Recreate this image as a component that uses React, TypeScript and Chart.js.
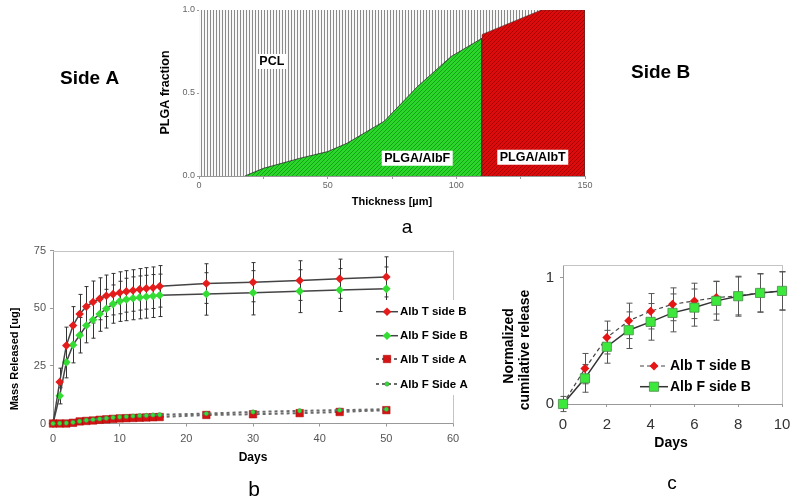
import { useEffect, useRef } from 'react';
import { Chart, registerables } from 'chart.js';

Chart.register(...registerables);

const FONT = '"Liberation Sans", Arial, Helvetica, sans-serif';

// ---------- Panel a: composition profile ----------
const thicknessTicks = [0, 25, 50, 75, 100, 125, 150];
const thicknessLabels = ['0', '', '50', '', '100', '', '150'];
const fractionTicks = [0, 0.5, 1];
const fractionLabels = ['0.0', '0.5', '1.0'];
const pclX = [0, 150];
const pclY = [1, 1];
const albFX = [17.8, 25, 39, 50, 57.5, 72, 85, 98, 110, 110];
const albFY = [0, 0.046, 0.106, 0.147, 0.197, 0.33, 0.54, 0.72, 0.83, 0];
const albTX = [110, 110, 133, 150, 150];
const albTY = [0, 0.853, 1, 1, 0];
const regionLabels = ['PCL', 'PLGA/AlbF', 'PLGA/AlbT'];
const regionLabelX = [28.3, 84.8, 129.7];
const regionLabelY = [0.69, 0.107, 0.113];

// ---------- Panel b: mass released ----------
const daysB = [0, 1, 2, 3, 4, 5, 6, 7, 8, 9, 10, 11, 12, 13, 14, 15, 16, 23, 30, 37, 43, 50];
const albTSideB = [0, 18, 33.8, 42.5, 47.5, 50.7, 52.7, 54.1, 55.4, 56.1, 56.7, 57.3, 57.7, 58.2, 58.6, 58.9, 59.5, 60.7, 61.3, 62, 62.8, 63.6];
const errTSideB = [0, 6, 8, 8.2, 8.5, 8.7, 9.1, 9.1, 9, 9, 9.1, 9, 9, 9, 9, 9, 9, 8.6, 8.5, 8.6, 8.5, 8.7];
const albFSideB = [0, 12, 26.6, 34.1, 38.3, 42.5, 45, 47.5, 49.8, 51.8, 53, 53.8, 54.3, 54.7, 55, 55.3, 55.6, 56.2, 56.7, 57.4, 57.9, 58.4];
const errFSideB = [0, 3.5, 6.8, 7.8, 7.7, 7.5, 8, 7.5, 8.4, 8.3, 8.7, 9.2, 9.3, 9.3, 9.3, 9.3, 9.2, 9.2, 9.6, 9.3, 9.3, 9.5];
const albTSideA = [0, 0, 0, 0.3, 0.9, 1.1, 1.3, 1.6, 1.8, 2.0, 2.2, 2.3, 2.4, 2.5, 2.6, 2.7, 2.8, 3.7, 4.0, 4.5, 5.0, 5.8];
const albFSideA = [0, 0.1, 0.2, 0.5, 1.0, 1.4, 1.7, 2.0, 2.3, 2.6, 2.8, 3.0, 3.2, 3.4, 3.5, 3.7, 3.8, 4.3, 5.0, 5.5, 5.8, 6.2];
const daysBTicks = [0, 10, 20, 30, 40, 50, 60];
const massTicks = [0, 25, 50, 75];

// ---------- Panel c: normalized release ----------
const daysC = [0, 1, 2, 3, 4, 5, 6, 7, 8, 9, 10];
const albTNorm = [0, 0.28, 0.526, 0.658, 0.734, 0.789, 0.816, 0.842, 0.855, 0.879, 0.895];
const errTNorm = [0.06, 0.12, 0.13, 0.14, 0.14, 0.13, 0.14, 0.13, 0.15, 0.15, 0.15];
const albFNorm = [0, 0.203, 0.453, 0.584, 0.65, 0.721, 0.763, 0.816, 0.853, 0.879, 0.895];
const errFNorm = [0.03, 0.11, 0.13, 0.145, 0.145, 0.15, 0.147, 0.153, 0.158, 0.153, 0.153];
const daysCTicks = [0, 2, 4, 6, 8, 10];
const normTicks = [0, 1];

const zip = (xs: number[], ys: number[]) => xs.map((x, i) => ({ x, y: ys[i] }));

function makeScale(o: {
  axis: 'x' | 'y'; min: number; max: number; ticks: number[]; labels?: string[];
  size: number; color: string; tickLen: number; pad: number; fit: number;
}) {
  return {
    type: 'linear',
    min: o.min,
    max: o.max,
    afterBuildTicks: (s: any) => { s.ticks = o.ticks.map((v) => ({ value: v })); },
    afterFit: (s: any) => { if (o.axis === 'x') s.height = o.fit; else s.width = o.fit; },
    ticks: {
      callback: (v: any, i: number) => (o.labels ? o.labels[i] : String(v)),
      font: { family: FONT, size: o.size },
      color: o.color,
      padding: o.pad,
      autoSkip: false,
      maxRotation: 0,
      minRotation: 0,
    },
    grid: { display: true, drawOnChartArea: false, drawTicks: true, tickLength: o.tickLen, color: '#999' },
    border: { display: true, color: '#999', width: 1 },
  };
}

type TextItem = {
  text: string; x: number; y: number; font: string; color?: string;
  align?: CanvasTextAlign; baseline?: CanvasTextBaseline; rotate?: number; box?: boolean;
};

const textPlugin = (id: string, getItems: (chart: any) => TextItem[]) => ({
  id,
  afterDraw(chart: any) {
    const ctx = chart.ctx as CanvasRenderingContext2D;
    for (const t of getItems(chart)) {
      ctx.save();
      ctx.translate(t.x, t.y);
      if (t.rotate) ctx.rotate(t.rotate);
      ctx.font = t.font;
      ctx.textAlign = t.align ?? 'center';
      ctx.textBaseline = t.baseline ?? 'alphabetic';
      if (t.box) {
        const w = ctx.measureText(t.text).width;
        ctx.fillStyle = '#fff';
        ctx.fillRect(-w / 2 - 2.5, -7.5, w + 5, 15);
      }
      ctx.fillStyle = t.color ?? '#000';
      ctx.fillText(t.text, 0, 0);
      ctx.restore();
    }
  },
});

const errorBarPlugin = (color: string, cap: number) => ({
  id: 'errorBars',
  beforeDatasetsDraw(chart: any) {
    const ctx = chart.ctx as CanvasRenderingContext2D;
    const ys = chart.scales.y;
    chart.data.datasets.forEach((ds: any, i: number) => {
      if (!ds.errors) return;
      const meta = chart.getDatasetMeta(i);
      ctx.save();
      ctx.strokeStyle = color;
      ctx.lineWidth = 1;
      meta.data.forEach((pt: any, j: number) => {
        const e = ds.errors[j];
        if (!e) return;
        const v = ds.data[j].y;
        const t = ys.getPixelForValue(v + e);
        const b = ys.getPixelForValue(v - e);
        const x = Math.round(pt.x) + 0.5;
        ctx.beginPath();
        ctx.moveTo(x, t); ctx.lineTo(x, b);
        ctx.moveTo(x - cap, t); ctx.lineTo(x + cap, t);
        ctx.moveTo(x - cap, b); ctx.lineTo(x + cap, b);
        ctx.stroke();
      });
      ctx.restore();
    });
  },
});

const framePlugin = (color: string) => ({
  id: 'frame',
  beforeDatasetsDraw(chart: any) {
    const { ctx, chartArea: a } = chart;
    ctx.save();
    ctx.strokeStyle = color;
    ctx.lineWidth = 1;
    ctx.beginPath();
    ctx.moveTo(a.left, Math.round(a.top) + 0.5);
    ctx.lineTo(a.right, Math.round(a.top) + 0.5);
    ctx.moveTo(Math.round(a.right) + 0.5, a.top);
    ctx.lineTo(Math.round(a.right) + 0.5, a.bottom);
    ctx.stroke();
    ctx.restore();
  },
});

function drawMarker(ctx: CanvasRenderingContext2D, style: string, x: number, y: number, r: number, fill: string, stroke: string, bw: number) {
  ctx.beginPath();
  if (style === 'rectRot') {
    ctx.moveTo(x, y - r); ctx.lineTo(x + r, y); ctx.lineTo(x, y + r); ctx.lineTo(x - r, y); ctx.closePath();
  } else if (style === 'rect') {
    const s = r * Math.SQRT1_2;
    ctx.rect(x - s, y - s, 2 * s, 2 * s);
  } else {
    ctx.arc(x, y, r, 0, Math.PI * 2);
  }
  ctx.fillStyle = fill;
  ctx.fill();
  if (bw > 0) { ctx.lineWidth = bw; ctx.strokeStyle = stroke; ctx.stroke(); }
}

const legendPlugin = (o: {
  order: number[]; rows: number[]; x0: number; x1: number; textX: number; font: string;
  box?: [number, number, number, number];
}) => ({
  id: 'customLegend',
  afterDraw(chart: any) {
    const ctx = chart.ctx as CanvasRenderingContext2D;
    ctx.save();
    if (o.box) { ctx.fillStyle = '#fff'; ctx.fillRect(...o.box); }
    o.order.forEach((di, k) => {
      const ds = chart.data.datasets[di];
      const y = o.rows[k];
      ctx.save();
      ctx.strokeStyle = ds.borderColor;
      ctx.lineWidth = ds.borderWidth;
      ctx.setLineDash(ds.borderDash || []);
      ctx.beginPath(); ctx.moveTo(o.x0, y); ctx.lineTo(o.x1, y); ctx.stroke();
      ctx.setLineDash([]);
      drawMarker(ctx, ds.pointStyle, (o.x0 + o.x1) / 2, y, ds.pointRadius, ds.pointBackgroundColor, ds.pointBorderColor, ds.pointBorderWidth);
      ctx.restore();
      ctx.font = o.font;
      ctx.fillStyle = '#000';
      ctx.textAlign = 'left';
      ctx.textBaseline = 'middle';
      ctx.fillText(ds.label, o.textX, y + 0.5);
    });
    ctx.restore();
  },
});

function makePattern(target: CanvasRenderingContext2D, w: number, h: number, draw: (c: CanvasRenderingContext2D) => void) {
  const c = document.createElement('canvas');
  c.width = w; c.height = h;
  const x = c.getContext('2d')!;
  draw(x);
  return target.createPattern(c, 'repeat')!;
}

function hatch(base: string, line: string) {
  return (c: CanvasRenderingContext2D) => {
    c.fillStyle = base; c.fillRect(0, 0, 4, 4);
    c.strokeStyle = line; c.lineWidth = 1;
    c.beginPath();
    c.moveTo(-1, 5); c.lineTo(5, -1);
    c.moveTo(-1, 1); c.lineTo(1, -1);
    c.moveTo(3, 5); c.lineTo(5, 3);
    c.stroke();
  };
}

const common = {
  responsive: false,
  animation: false,
  devicePixelRatio: 1,
  events: [],
};

export default function App() {
  const aRef = useRef<HTMLCanvasElement>(null);
  const bRef = useRef<HTMLCanvasElement>(null);
  const cRef = useRef<HTMLCanvasElement>(null);

  useEffect(() => {
    const charts: Chart[] = [];
    const actx = aRef.current!.getContext('2d')!;
    const pclPat = makePattern(actx, 3, 4, (c) => {
      c.fillStyle = '#f8f8f8'; c.fillRect(0, 0, 3, 4);
      c.fillStyle = '#8a8a8a'; c.fillRect(0, 0, 1, 4);
    });
    const greenPat = makePattern(actx, 4, 4, hatch('#2ad62a', '#18a018'));
    const redPat = makePattern(actx, 4, 4, hatch('#dc0c0c', '#a80000'));

    // ---- Panel a ----
    charts.push(new Chart(aRef.current!, {
      type: 'line',
      data: {
        datasets: [
          { label: 'PLGA/AlbT', data: zip(albTX, albTY), fill: 'origin', backgroundColor: redPat, borderColor: 'rgba(50,50,50,0.6)', borderWidth: 0.8, pointRadius: 0, tension: 0 },
          { label: 'PLGA/AlbF', data: zip(albFX, albFY), fill: 'origin', backgroundColor: greenPat, borderColor: 'rgba(40,40,40,0.75)', borderWidth: 1, pointRadius: 0, tension: 0 },
          { label: 'PCL', data: zip(pclX, pclY), fill: 'origin', backgroundColor: pclPat, borderWidth: 0, pointRadius: 0 },
        ],
      },
      options: {
        ...common,
        layout: { padding: { left: 150, right: 215, top: 10, bottom: 40 } },
        plugins: { legend: { display: false }, tooltip: { enabled: false } },
        scales: {
          x: makeScale({ axis: 'x', min: 0, max: 150, ticks: thicknessTicks, labels: thicknessLabels, size: 9, color: '#666', tickLen: 3, pad: 1, fit: 24 }),
          y: makeScale({ axis: 'y', min: 0, max: 1, ticks: fractionTicks, labels: fractionLabels, size: 9, color: '#666', tickLen: 2, pad: 2, fit: 49 }),
        },
      } as any,
      plugins: [textPlugin('textA', (chart) => [
        { text: 'Side A', x: 60, y: 83.5, font: `bold 19px ${FONT}`, align: 'left' },
        { text: 'Side B', x: 631, y: 77.5, font: `bold 19px ${FONT}`, align: 'left' },
        { text: 'a', x: 407, y: 233.3, font: `19px ${FONT}` },
        { text: 'PLGA fraction', x: 168.5, y: 92.5, font: `bold 12.5px ${FONT}`, rotate: -Math.PI / 2 },
        { text: 'Thickness [µm]', x: 392, y: 205, font: `bold 11px ${FONT}` },
        ...regionLabels.map((t, i) => ({
          text: t,
          x: chart.scales.x.getPixelForValue(regionLabelX[i]),
          y: chart.scales.y.getPixelForValue(regionLabelY[i]),
          font: `bold 12.5px ${FONT}`,
          baseline: 'middle' as CanvasTextBaseline,
          box: true,
        })),
      ])],
    } as any));

    // ---- Panel b ----
    charts.push(new Chart(bRef.current!, {
      type: 'line',
      data: {
        datasets: [
          { label: 'Alb F Side A', data: zip(daysB, albFSideA), borderColor: '#6a6a6a', borderDash: [3, 3], borderWidth: 2, pointStyle: 'circle', pointRadius: 2.2, pointBackgroundColor: '#35e035', pointBorderColor: '#4a7a4a', pointBorderWidth: 0.5, tension: 0, clip: false },
          { label: 'Alb T side A', data: zip(daysB, albTSideA), borderColor: '#6a6a6a', borderDash: [3, 3], borderWidth: 2, pointStyle: 'rect', pointRadius: 5.3, pointBackgroundColor: '#d41414', pointBorderColor: '#a00', pointBorderWidth: 0.5, tension: 0, clip: false },
          { label: 'Alb T side B', data: zip(daysB, albTSideB), errors: errTSideB, borderColor: '#444', borderWidth: 1.5, pointStyle: 'rectRot', pointRadius: 4.3, pointBackgroundColor: '#e41c1c', pointBorderColor: '#e41c1c', pointBorderWidth: 0, tension: 0, clip: false },
          { label: 'Alb F Side B', data: zip(daysB, albFSideB), errors: errFSideB, borderColor: '#444', borderWidth: 1.5, pointStyle: 'rectRot', pointRadius: 4.3, pointBackgroundColor: '#33dd33', pointBorderColor: '#33dd33', pointBorderWidth: 0, tension: 0, clip: false },
        ],
      },
      options: {
        ...common,
        layout: { padding: { left: 0, right: 27, top: 8.5, bottom: 54.5 } },
        plugins: { legend: { display: false }, tooltip: { enabled: false } },
        scales: {
          x: makeScale({ axis: 'x', min: 0, max: 60, ticks: daysBTicks, size: 11, color: '#555', tickLen: 3, pad: 6, fit: 22 }),
          y: makeScale({ axis: 'y', min: 0, max: 75, ticks: massTicks, size: 11, color: '#555', tickLen: 3, pad: 4, fit: 53 }),
        },
      } as any,
      plugins: [
        framePlugin('#c4c4c4'),
        errorBarPlugin('#333', 2),
        legendPlugin({ order: [2, 3, 1, 0], rows: [71.7, 95.7, 119, 144], x0: 376, x1: 398, textX: 400, font: `bold 11.5px ${FONT}`, box: [372, 60, 104, 95] }),
        textPlugin('textB', () => [
          { text: 'Mass Released [ug]', x: 17.5, y: 119, font: `bold 11px ${FONT}`, rotate: -Math.PI / 2 },
          { text: 'Days', x: 253, y: 220.5, font: `bold 12px ${FONT}` },
          { text: 'b', x: 254, y: 256, font: `21px ${FONT}` },
        ]),
      ],
    } as any));

    // ---- Panel c ----
    charts.push(new Chart(cRef.current!, {
      type: 'line',
      data: {
        datasets: [
          { label: 'Alb F side B', data: zip(daysC, albFNorm), errors: errFNorm, borderColor: '#333', borderWidth: 1.5, pointStyle: 'rect', pointRadius: 6.5, pointBackgroundColor: '#3de83d', pointBorderColor: '#4b8a4b', pointBorderWidth: 0.8, tension: 0, clip: false },
          { label: 'Alb T side B', data: zip(daysC, albTNorm), errors: errTNorm, borderColor: '#444', borderDash: [4, 3], borderWidth: 1.2, pointStyle: 'rectRot', pointRadius: 4.5, pointBackgroundColor: '#e51515', pointBorderColor: '#e51515', pointBorderWidth: 0, tension: 0, clip: false },
        ],
      },
      options: {
        ...common,
        layout: { padding: { left: 0, right: 18, top: 25, bottom: 66 } },
        plugins: { legend: { display: false }, tooltip: { enabled: false } },
        scales: {
          x: makeScale({ axis: 'x', min: 0, max: 10, ticks: daysCTicks, size: 15, color: '#333', tickLen: 3, pad: 9, fit: 30 }),
          y: makeScale({ axis: 'y', min: 0, max: 1.1, ticks: normTicks, size: 15, color: '#333', tickLen: 3, pad: 6, fit: 83 }),
        },
      } as any,
      plugins: [
        framePlugin('#c4c4c4'),
        errorBarPlugin('#555', 3),
        legendPlugin({ order: [1, 0], rows: [126, 146.7], x0: 160, x1: 188, textX: 190, font: `bold 14px ${FONT}` }),
        textPlugin('textC', () => [
          { text: 'Normalized', x: 33, y: 106, font: `bold 14px ${FONT}`, rotate: -Math.PI / 2 },
          { text: 'cumilative release', x: 48.5, y: 110, font: `bold 14px ${FONT}`, rotate: -Math.PI / 2 },
          { text: 'Days', x: 191, y: 206.7, font: `bold 14px ${FONT}` },
          { text: 'c', x: 192, y: 249.3, font: `19px ${FONT}` },
        ]),
      ],
    } as any));

    return () => charts.forEach((c) => c.destroy());
  }, []);

  return (
    <div style={{ position: 'absolute', left: 0, top: 0, width: 800, height: 500, background: '#fff', overflow: 'hidden' }}>
      <canvas ref={aRef} width={800} height={240} style={{ position: 'absolute', left: 0, top: 0 }} />
      <canvas ref={bRef} width={480} height={260} style={{ position: 'absolute', left: 0, top: 240 }} />
      <canvas ref={cRef} width={320} height={260} style={{ position: 'absolute', left: 480, top: 240 }} />
    </div>
  );
}
